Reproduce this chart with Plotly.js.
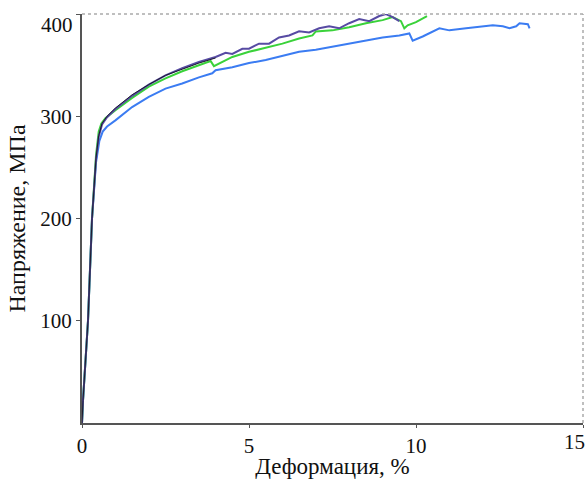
<!DOCTYPE html>
<html>
<head>
<meta charset="utf-8">
<script src="https://cdn.plot.ly/plotly-3.0.1.min.js"></script>
<style>html,body{margin:0;padding:0;background:#fff;}#chart{width:587px;height:479px;}</style>
</head>
<body>
<div id="chart"></div>
<script>
// Strain (%) and stress (MPa)
const darkX = [0, 0.03, 0.18, 0.30, 0.42, 0.50, 0.60, 0.75, 1.0, 1.5, 2.0, 2.5, 3.0, 3.5, 4.0, 4.3, 4.5, 4.8, 5.0, 5.3, 5.6, 5.9, 6.2, 6.5, 6.8, 7.1, 7.4, 7.7, 8.0, 8.3, 8.6, 8.9, 9.1, 9.3, 9.5];
const darkY = [0, 22, 100, 200, 258, 280, 292, 299, 307, 320, 331, 340, 347, 353, 358, 362, 361, 366, 366, 371, 371, 377, 379, 383, 382, 386, 388, 386, 391, 395, 393, 398, 400, 397, 393];

const blackX = [0, 0.03, 0.18, 0.30, 0.42, 0.50, 0.60, 0.75, 1.0, 1.5, 2.0, 2.5, 3.0, 3.5, 4.0];
const blackY = [0, 22, 100, 200, 259, 281, 293, 300, 308, 321, 331, 340, 346, 352, 357];

const greenX = [0, 0.03, 0.18, 0.30, 0.42, 0.50, 0.58, 0.70, 1.0, 1.5, 2.0, 2.5, 3.0, 3.5, 3.85, 3.95, 4.5, 5.0, 5.5, 6.0, 6.5, 6.9, 7.0, 7.5, 8.0, 8.5, 9.0, 9.3, 9.55, 9.65, 9.75, 10.0, 10.33];
const greenY = [0, 22, 100, 200, 262, 285, 293, 298, 306, 318, 329, 337, 344, 350, 354, 349, 358, 363, 367, 371, 376, 379, 383, 384, 387, 391, 394, 397, 393, 386, 389, 392, 398];

const blueX = [0, 0.03, 0.18, 0.30, 0.42, 0.52, 0.62, 0.75, 1.0, 1.5, 2.0, 2.5, 3.0, 3.5, 3.9, 4.0, 4.5, 5.0, 5.5, 6.0, 6.5, 7.0, 7.5, 8.0, 8.5, 9.0, 9.5, 9.8, 9.9, 10.2, 10.7, 11.0, 11.5, 12.0, 12.3, 12.6, 12.8, 13.0, 13.1, 13.35, 13.4];
const blueY = [0, 22, 100, 200, 255, 276, 285, 290, 296, 309, 319, 327, 332, 338, 342, 345, 348, 352, 355, 359, 363, 365, 368, 371, 374, 377, 379, 381, 374, 378, 386, 384, 386, 388, 389, 388, 386, 388, 391, 390, 386];

const xTicks = [0, 5, 10, 15];
const xTickText = ['0', '5', '10', ''];
const yTicks = [100, 200, 300, 400];
const yTickText = ['100', '200', '300', ''];

const font = 'Liberation Serif, Times New Roman, serif';
const tickSize = 21;
const titleSize = 23;

const traces = [
  {x: blueX, y: blueY, mode: 'lines', line: {color: '#3b7cf2', width: 2}, hoverinfo: 'skip'},
  {x: greenX, y: greenY, mode: 'lines', line: {color: '#3ad23a', width: 2}, hoverinfo: 'skip'},
  {x: darkX, y: darkY, mode: 'lines', line: {color: '#574ba3', width: 2}, hoverinfo: 'skip'},
  {x: blackX, y: blackY, mode: 'lines', line: {color: '#1c1c2c', width: 1}, hoverinfo: 'skip'}
];

const layout = {
  width: 587, height: 479,
  margin: {l: 82, r: 4, t: 14, b: 56},
  paper_bgcolor: '#fff', plot_bgcolor: '#fff',
  showlegend: false,
  font: {family: font, size: tickSize, color: '#111'},
  xaxis: {
    range: [0, 15], tickvals: xTicks, ticktext: xTickText,
    showgrid: false, zeroline: false, showline: true, linecolor: '#555', linewidth: 2,
    ticks: 'outside', ticklen: 3, tickcolor: '#555', tickwidth: 1,
    tickfont: {family: font, size: tickSize, color: '#111'},
    title: {text: 'Деформация, %', font: {family: font, size: titleSize, color: '#111'}, standoff: 2}
  },
  yaxis: {
    range: [0, 400], tickvals: yTicks, ticktext: yTickText,
    showgrid: false, zeroline: false, showline: true, linecolor: '#555', linewidth: 2,
    ticks: 'outside', ticklen: 4, tickcolor: '#555', tickwidth: 1,
    tickfont: {family: font, size: tickSize, color: '#111'},
    title: {text: 'Напряжение, МПа', font: {family: font, size: 24, color: '#111'}, standoff: 8}
  },
  shapes: [
    {type: 'line', xref: 'paper', yref: 'paper', x0: 0, x1: 1, y0: 1, y1: 1, line: {color: '#aaa', width: 1.5, dash: 'dot'}},
    {type: 'line', xref: 'paper', yref: 'paper', x0: 1, x1: 1, y0: 0, y1: 1, line: {color: '#aaa', width: 1.5, dash: 'dot'}}
  ],
  annotations: [
    {text: '400', xref: 'paper', x: 0, xanchor: 'right', xshift: -7, yref: 'y', y: 400, yanchor: 'middle', yshift: -11, showarrow: false, font: {family: font, size: tickSize, color: '#111'}},
    {text: '15', xref: 'x', x: 15, xanchor: 'right', xshift: 4, yref: 'paper', y: 0, yanchor: 'top', yshift: -5, showarrow: false, font: {family: font, size: tickSize, color: '#111'}}
  ]
};

Plotly.newPlot('chart', traces, layout, {displayModeBar: false, staticPlot: true});
</script>
</body>
</html>
